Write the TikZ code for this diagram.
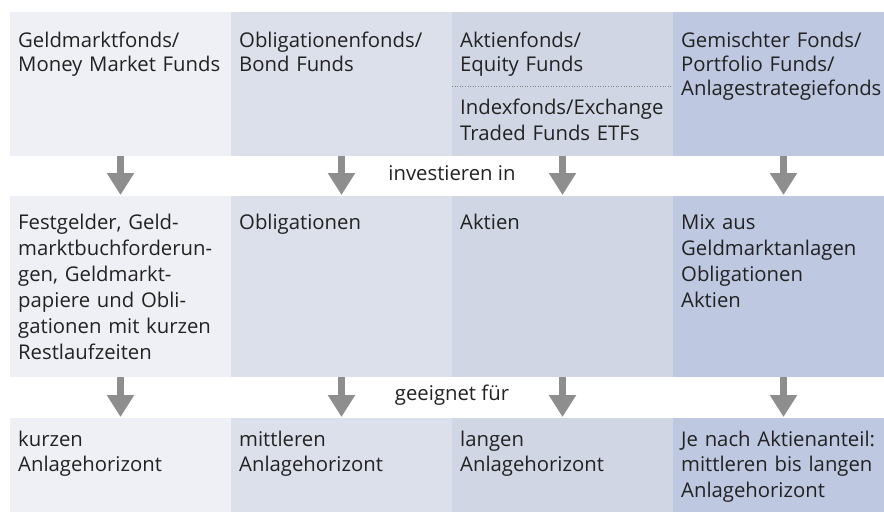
\documentclass[tikz,border=0pt]{standalone}
\usepackage{fontspec}
\setmainfont{Open Sans}
\usetikzlibrary{arrows.meta}
\definecolor{cA}{HTML}{EFF0F5}
\definecolor{cB}{HTML}{DCE0EB}
\definecolor{cC}{HTML}{D0D6E3}
\definecolor{cD}{HTML}{BEC8E1}
\definecolor{txtc}{HTML}{222222}
\definecolor{arrc}{HTML}{8E8E8E}
\begin{document}
\begin{tikzpicture}[x=1pt,y=-1pt,
  box/.style={draw=none,inner sep=0pt,minimum width=221pt,anchor=north west,outer sep=0pt},
  txt/.style={anchor=base west,inner sep=0pt,text width=210pt,align=left,text=txtc,
    font=\fontsize{20.3}{25.5}\selectfont},
  txtmid/.style={txt,font=\fontsize{20.3}{26}\selectfont},
  txttop/.style={txt,font=\fontsize{20.3}{24}\selectfont},
  lbl/.style={anchor=base,inner sep=0pt,text=txtc,font=\fontsize{20.3}{24}\selectfont},
  bigarr/.style={draw=arrc,line width=7pt,-{Triangle[width=26pt,length=22pt]},shorten >=1pt},
  dotline/.style={draw=gray,dotted,line width=0.6pt}]
\useasboundingbox (0,0) rectangle (884,514);
% row 1
\node[box,fill=cA,minimum height=144pt] (a1) at (10,12) {};
\node[box,fill=cB,minimum height=144pt] (a2) at (231,12) {};
\node[box,fill=cC,minimum height=144pt] (a3) at (452,12) {};
\node[box,fill=cD,minimum height=144pt] (a4) at (673,12) {};
% row 2
\node[box,fill=cA,minimum height=181pt] (b1) at (10,196) {};
\node[box,fill=cB,minimum height=181pt] (b2) at (231,196) {};
\node[box,fill=cC,minimum height=181pt] (b3) at (452,196) {};
\node[box,fill=cD,minimum height=181pt] (b4) at (673,196) {};
% row 3
\node[box,fill=cA,minimum height=94pt] (c1) at (10,418) {};
\node[box,fill=cB,minimum height=94pt] (c2) at (231,418) {};
\node[box,fill=cC,minimum height=94pt] (c3) at (452,418) {};
\node[box,fill=cD,minimum height=94pt] (c4) at (673,418) {};
% dotted separator
\coordinate (d1) at (452,86);
\coordinate (d2) at (673,86);
\draw[dotline] (d1) -- (d2);
% texts row 1
\node[txttop] (ta1) at (18,47) {Geldmarktfonds/\\Money Market Funds};
\node[txttop] (ta2) at (239,47) {Obligationenfonds/\\Bond Funds};
\node[txttop] (ta3) at (460,47) {Aktienfonds/\\Equity Funds};
\node[txttop,font=\fontsize{20.3}{26}\selectfont] (ta3b) at (460,114) {Indexfonds/Exchange\\Traded Funds ETFs};
\node[txttop] (ta4) at (681,47) {Gemischter Fonds/\\Portfolio Funds/\\Anlagestrategiefonds};
% texts row 2
\node[txtmid] (tb1) at (18,229) {Festgelder, Geld-\\marktbuchforderun-\\gen, Geldmarkt-\\papiere und Obli-\\gationen mit kurzen\\Restlaufzeiten};
\node[txtmid] (tb2) at (239,229) {Obligationen};
\node[txtmid] (tb3) at (460,229) {Aktien};
\node[txtmid] (tb4) at (681,229) {Mix aus\\Geldmarktanlagen\\Obligationen\\Aktien};
% texts row 3
\node[txt] (tc1) at (18,446) {kurzen\\Anlagehorizont};
\node[txt] (tc2) at (239,446) {mittleren\\Anlagehorizont};
\node[txt] (tc3) at (460,446) {langen\\Anlagehorizont};
\node[txt] (tc4) at (681,446) {Je nach Aktienanteil:\\mittleren bis langen\\Anlagehorizont};
% labels between rows
\node[lbl] (l1) at (452,180) {investieren in};
\node[lbl] (l2) at (452,400) {geeignet für};
% arrows
\foreach \i in {1,2,3,4} {
  \draw[bigarr] (a\i.south) -- (b\i.north);
  \draw[bigarr] (b\i.south) -- (c\i.north);
}
\end{tikzpicture}
\end{document}
